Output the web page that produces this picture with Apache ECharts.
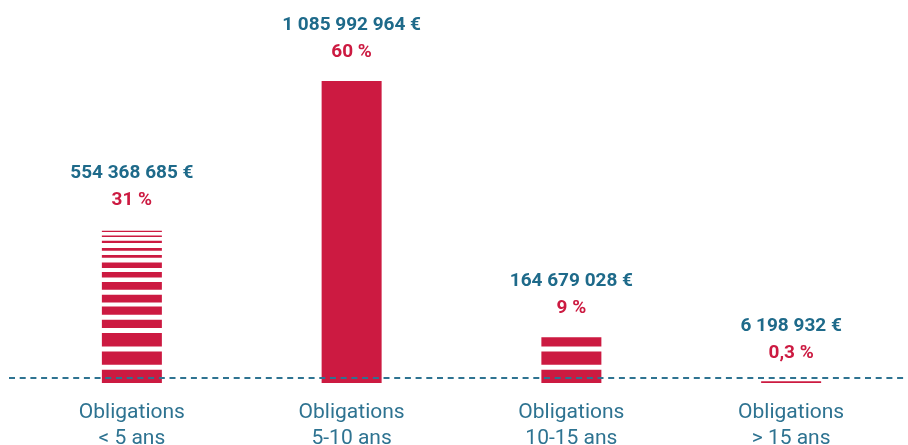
<!DOCTYPE html>
<html>
<head>
<meta charset="utf-8">
<style>
  html, body { margin: 0; padding: 0; background: #fff; }
  #chart { width: 908px; height: 445px; }
</style>
<script src="https://cdn.jsdelivr.net/npm/echarts@6/dist/echarts.min.js"></script>
</head>
<body>
<div id="chart"></div>
<script>
// données
var categories = ['Obligations\n< 5 ans', 'Obligations\n5-10 ans', 'Obligations\n10-15 ans', 'Obligations\n> 15 ans'];
var montants = [554368685, 1085992964, 164679028, 6198932];
var parts = ['31 %', '60 %', '9 %', '0,3 %'];
var rayees = [true, false, true, false];

// couleurs
var ROUGE = '#cc1a41';
var BLEU = '#1e6a8a';
var BLEU_CLAIR = '#2e7391';

// motif des rayures (px depuis le bas de la barre)
var rayures = [
    [0, 13.3], [18.3, 31.6], [36.6, 50], [55, 63.3], [68.3, 76.6],
    [80.6, 88.3], [93.3, 101], [105.6, 111], [115, 120.6], [125.3, 128],
    [132.3, 135], [140, 142.3], [146, 147.6], [151, 152.3], [155.3, 156.6]
];
var LARGEUR_BARRE = 60;

function formatMontant(v) {
    return String(v).replace(/\B(?=(\d{3})+(?!\d))/g, ' ') + ' €';
}

var chart = echarts.init(document.getElementById('chart'));

var option = {
    animation: false,
    textStyle: { fontFamily: 'Roboto' },
    grid: { left: 22, right: 7, top: 81, bottom: 62, containLabel: false, outerBoundsMode: 'none' },
    xAxis: {
        type: 'category',
        data: categories,
        axisLine: { show: false },
        axisTick: { show: false },
        axisLabel: {
            color: BLEU_CLAIR,
            fontSize: 21,
            lineHeight: 26,
            margin: 17,
            interval: 0
        }
    },
    yAxis: {
        type: 'value',
        show: false,
        min: 0,
        max: function(v) { return v.max; }
    },
    series: [{
        type: 'bar',
        barWidth: LARGEUR_BARRE,
        data: montants.map(function(v, i) {
            return {
                value: v,
                itemStyle: { color: rayees[i] ? 'rgba(0,0,0,0)' : ROUGE }
            };
        }),
        label: {
            show: true,
            position: 'top',
            distance: 15,
            formatter: function(p) {
                return '{v|' + formatMontant(montants[p.dataIndex]) + '}\n{p|' + parts[p.dataIndex] + '}';
            },
            rich: {
                v: { color: BLEU, fontSize: 19, fontWeight: 'bold', lineHeight: 27, fontFamily: 'Roboto' },
                p: { color: ROUGE, fontSize: 19, fontWeight: 'bold', lineHeight: 27, fontFamily: 'Roboto' }
            }
        },
        z: 2
    }, {
        type: 'custom',
        data: montants.map(function(v, i) { return [i, v]; }),
        renderItem: function(params, api) {
            var idx = params.dataIndex;
            if (!rayees[idx]) return null;
            var bas = api.coord([api.value(0), 0]);
            var haut = api.coord([api.value(0), api.value(1)]);
            var h = bas[1] - haut[1];
            var x = bas[0] - LARGEUR_BARRE / 2;
            var enfants = [];
            rayures.forEach(function(r) {
                if (r[0] >= h) return;
                var y1 = Math.min(r[1], h);
                enfants.push({
                    type: 'rect',
                    shape: { x: x, y: bas[1] - y1, width: LARGEUR_BARRE, height: y1 - r[0] },
                    style: { fill: ROUGE }
                });
            });
            return { type: 'group', children: enfants };
        },
        z: 3
    }],
    graphic: [{
        type: 'line',
        shape: { x1: 9, y1: 378, x2: 907, y2: 378 },
        style: { stroke: BLEU_CLAIR, lineWidth: 2, lineDash: [6, 4.7] },
        z: 100
    }]
};

chart.setOption(option);
</script>
</body>
</html>
